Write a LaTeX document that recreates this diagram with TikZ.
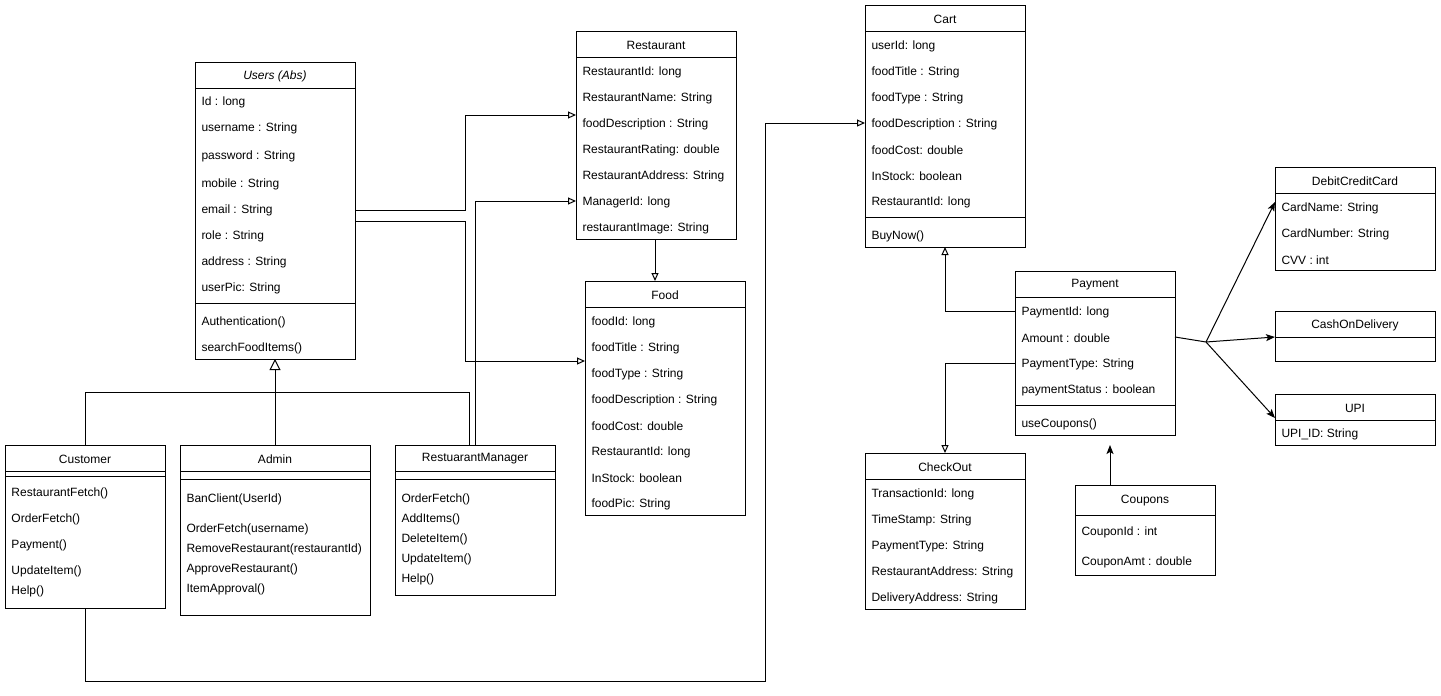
\documentclass[tikz,border=0pt]{standalone}
\usepackage{fontspec}
\setmainfont{Liberation Sans}
\usetikzlibrary{arrows.meta}
\begin{document}
\begin{tikzpicture}[x=1pt,y=-1pt, line width=1pt,
 cls/.style={draw, anchor=north west, inner sep=0pt, outer sep=0pt, fill=white},
 ttl/.style={anchor=center, inner sep=0pt, yshift=-1pt, font=\fontsize{12}{14}\selectfont},
 att/.style={anchor=west, inner sep=0pt, yshift=-1pt, font=\fontsize{12}{14}\selectfont},
 assoc/.style={-{Triangle[open,length=8pt,width=7pt]}},
 gen/.style={-{Triangle[open,length=11pt,width=11pt]}},
 dir/.style={-{Stealth[length=9pt,width=7pt,inset=2pt]}},
 ]
\useasboundingbox (0,0) rectangle (1441,696);
% ---------- Users
\node[cls, minimum width=160pt, minimum height=297pt] (users) at (195,62) {};
\node[ttl, font=\fontsize{12}{14}\selectfont\itshape] (usersT) at (275,75) {Users (Abs)};
\draw (users.west |- 0,88) -- (users.east |- 0,88);
\node[att] (u1) at (201,101) {Id : long};
\node[att] (u2) at (201,127) {username : String};
\node[att] (u3) at (201,155) {password : String};
\node[att] (u4) at (201,183) {mobile : String};
\node[att] (u5) at (201,209) {email : String};
\node[att] (u6) at (201,235) {role : String};
\node[att] (u7) at (201,261) {address : String};
\node[att] (u8) at (201,287) {userPic: String};
\draw (users.west |- 0,303) -- (users.east |- 0,303);
\node[att] (u9) at (201,321) {Authentication()};
\node[att] (u10) at (201,347) {searchFoodItems()};
% ---------- Restaurant
\node[cls, minimum width=160pt, minimum height=208pt] (rest) at (576,31) {};
\node[ttl] (restT) at (656,44) {Restaurant};
\draw (rest.west |- 0,57) -- (rest.east |- 0,57);
\node[att] (r1) at (582,71) {RestaurantId: long};
\node[att] (r2) at (582,97) {RestaurantName: String};
\node[att] (r3) at (582,123) {foodDescription : String};
\node[att] (r4) at (582,149) {RestaurantRating: double};
\node[att] (r5) at (582,175) {RestaurantAddress: String};
\node[att] (r6) at (582,201) {ManagerId: long};
\node[att] (r7) at (582,227) {restaurantImage: String};
% ---------- Food
\node[cls, minimum width=160pt, minimum height=234pt] (food) at (585,281) {};
\node[ttl] (foodT) at (665,294) {Food};
\draw (food.west |- 0,307) -- (food.east |- 0,307);
\node[att] (f1) at (591,321) {foodId: long};
\node[att] (f2) at (591,347) {foodTitle : String};
\node[att] (f3) at (591,373) {foodType : String};
\node[att] (f4) at (591,399) {foodDescription : String};
\node[att] (f5) at (591,425) {foodCost: double};
\node[att] (f6) at (591,451) {RestaurantId: long};
\node[att] (f7) at (591,477) {InStock: boolean};
\node[att] (f8) at (591,503) {foodPic: String};
% ---------- Cart
\node[cls, minimum width=160pt, minimum height=242pt] (cart) at (865,5) {};
\node[ttl] (cartT) at (945,18) {Cart};
\draw (cart.west |- 0,31) -- (cart.east |- 0,31);
\node[att] (c1) at (871,45) {userId: long};
\node[att] (c2) at (871,71) {foodTitle : String};
\node[att] (c3) at (871,97) {foodType : String};
\node[att] (c4) at (871,123) {foodDescription : String};
\node[att] (c5) at (871,149) {foodCost: double};
\node[att] (c6) at (871,175) {InStock: boolean};
\node[att] (c7) at (871,201) {RestaurantId: long};
\draw (cart.west |- 0,217) -- (cart.east |- 0,217);
\node[att] (c8) at (871,235) {BuyNow()};
% ---------- Payment
\node[cls, minimum width=160pt, minimum height=164pt] (pay) at (1015,271) {};
\node[ttl] (payT) at (1095,284) {Payment};
\draw (pay.west |- 0,297) -- (pay.east |- 0,297);
\node[att] (p1) at (1021,311) {PaymentId: long};
\node[att] (p2) at (1021,337) {Amount : double};
\node[att] (p3) at (1021,363) {PaymentType: String};
\node[att] (p4) at (1021,389) {paymentStatus : boolean};
\draw (pay.west |- 0,405) -- (pay.east |- 0,405);
\node[att] (p5) at (1021,423) {useCoupons()};
% ---------- CheckOut
\node[cls, minimum width=160pt, minimum height=156pt] (chk) at (865,453) {};
\node[ttl] (chkT) at (945,466) {CheckOut};
\draw (chk.west |- 0,479) -- (chk.east |- 0,479);
\node[att] (k1) at (871,493) {TransactionId: long};
\node[att] (k2) at (871,519) {TimeStamp: String};
\node[att] (k3) at (871,545) {PaymentType: String};
\node[att] (k4) at (871,571) {RestaurantAddress: String};
\node[att] (k5) at (871,597) {DeliveryAddress: String};
% ---------- Coupons
\node[cls, minimum width=140pt, minimum height=90pt] (coup) at (1075,485) {};
\node[ttl] (coupT) at (1145,500) {Coupons};
\draw (coup.west |- 0,515) -- (coup.east |- 0,515);
\node[att] (q1) at (1081,531) {CouponId : int};
\node[att] (q2) at (1081,561) {CouponAmt : double};
% ---------- DebitCreditCard
\node[cls, minimum width=160pt, minimum height=103pt] (dcc) at (1275,167) {};
\node[ttl] (dccT) at (1355,180) {DebitCreditCard};
\draw (dcc.west |- 0,193) -- (dcc.east |- 0,193);
\node[att] (d1) at (1281,207) {CardName: String};
\node[att] (d2) at (1281,233) {CardNumber: String};
\node[att] (d3) at (1281,259) {CVV : int};
% ---------- CashOnDelivery
\node[cls, minimum width=160pt, minimum height=50pt] (cod) at (1275,311) {};
\node[ttl] (codT) at (1355,324) {CashOnDelivery};
\draw (cod.west |- 0,337) -- (cod.east |- 0,337);
% ---------- UPI
\node[cls, minimum width=160pt, minimum height=51pt] (upi) at (1275,394) {};
\node[ttl] (upiT) at (1355,407) {UPI};
\draw (upi.west |- 0,420) -- (upi.east |- 0,420);
\node[att] (v1) at (1281,433) {UPI\_ID: String};
% ---------- Customer
\node[cls, minimum width=160pt, minimum height=163pt] (cust) at (5,445) {};
\node[ttl] (custT) at (85,458) {Customer};
\draw (cust.west |- 0,471) -- (cust.east |- 0,471);
\draw (cust.west |- 0,476) -- (cust.east |- 0,476);
\node[att] (s1) at (11,492) {RestaurantFetch()};
\node[att] (s2) at (11,518) {OrderFetch()};
\node[att] (s3) at (11,544) {Payment()};
\node[att] (s4) at (11,570) {UpdateItem()};
\node[att] (s5) at (11,590) {Help()};
% ---------- Admin
\node[cls, minimum width=190pt, minimum height=170pt] (adm) at (180,445) {};
\node[ttl] (admT) at (275,458) {Admin};
\draw (adm.west |- 0,471) -- (adm.east |- 0,471);
\draw (adm.west |- 0,479) -- (adm.east |- 0,479);
\node[att] (a1) at (186,498) {BanClient(UserId)};
\node[att] (a2) at (186,528) {OrderFetch(username)};
\node[att] (a3) at (186,548) {RemoveRestaurant(restaurantId)};
\node[att] (a4) at (186,568) {ApproveRestaurant()};
\node[att] (a5) at (186,588) {ItemApproval()};
% ---------- RestuarantManager
\node[cls, minimum width=160pt, minimum height=150pt] (rm) at (395,445) {};
\node[ttl] (rmT) at (475,458) {RestuarantManager};
\draw (rm.west |- 0,471) -- (rm.east |- 0,471);
\draw (rm.west |- 0,479) -- (rm.east |- 0,479);
\node[att] (m1) at (401,498) {OrderFetch()};
\node[att] (m2) at (401,518) {AddItems()};
\node[att] (m3) at (401,538) {DeleteItem()};
\node[att] (m4) at (401,558) {UpdateItem()};
\node[att] (m5) at (401,578) {Help()};
% ---------- connectors
\coordinate (gj) at (275,392);
\coordinate (jn) at (1206,342);
\draw[gen] (adm.north) -- (users.south);
\draw (cust.north) |- (gj);
\draw (rm.north -| 469,0) |- (gj);
\draw[assoc] (users.east |- 0,210) -| (465,115) -- (rest.west |- 0,115);
\draw[assoc] (users.east |- 0,221) -| (465,361) -- (food.west |- 0,361);
\draw[assoc] (rm.north) |- (rest.west |- 0,201);
\draw[assoc] (rest.south -| 655,0) -- (food.north -| 655,0);
\draw[assoc] (cust.south) -- (85,681) -| (765,123) -- (cart.west |- 0,123);
\draw[assoc] (pay.west |- 0,311) -| (cart.south);
\draw[assoc] (pay.west |- 0,363) -| (chk.north);
\draw[dir] (coup.north -| 1110,0) -- (1110,445);
\draw (pay.east |- 0,337) -- (jn);
\draw[dir] (jn) -- (dcc.west |- 0,202);
\draw[dir] (jn) -- (cod.west |- 0,337);
\draw[dir] (jn) -- (upi.west |- 0,418);
\end{tikzpicture}
\end{document}
